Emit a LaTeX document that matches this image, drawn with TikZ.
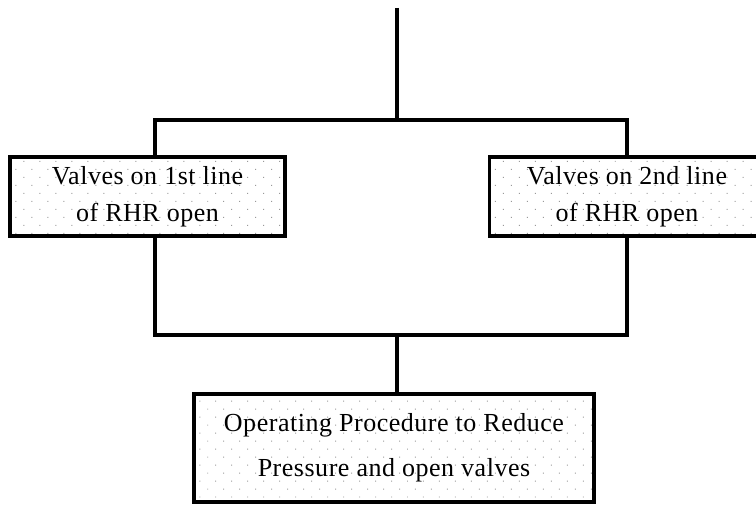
\documentclass[tikz,border=0pt]{standalone}
\usepackage{fontspec}
\setmainfont{Liberation Serif}[LetterSpace=2]
\usepackage{tikz}
\usetikzlibrary{positioning, patterns.meta}

\begin{document}
\begin{tikzpicture}[
    x=1pt, y=-1pt,
    box/.style={rectangle, draw, line width=3.5pt, minimum width=275pt, minimum height=79pt,
        pattern={Dots[distance=11.3pt, radius=0.7pt, angle=45]}, pattern color=black!40,
        align=center, font=\fontsize{26}{37}\selectfont},
    link/.style={line width=3.5pt}
]
    \useasboundingbox (0,0) rectangle (756,505);

    % Boxes
    \node[box] (lbox) at (147.5,196.5) {Valves on 1st line\\of RHR open};
    \node[box] (rbox) at (627,196.5) {Valves on 2nd line\\of RHR open};
    \node[box, minimum width=400pt, minimum height=108pt, font=\fontsize{26}{45}\selectfont]
        (proc) at (394,448) {Operating Procedure to Reduce\\Pressure and open valves};

    % Junctions
    \coordinate (top) at (397,8);
    \coordinate (split) at (397,120);
    \coordinate (join) at (397,335);

    % Connectors
    \draw[link] (top) -- (split);
    \draw[link] ([xshift=7.5pt]lbox.north) |- (split) -| (rbox.north);
    \draw[link] ([xshift=7.5pt]lbox.south) |- (join) -| (rbox.south);
    \draw[link] (join) -- (join |- proc.north);
\end{tikzpicture}
\end{document}
